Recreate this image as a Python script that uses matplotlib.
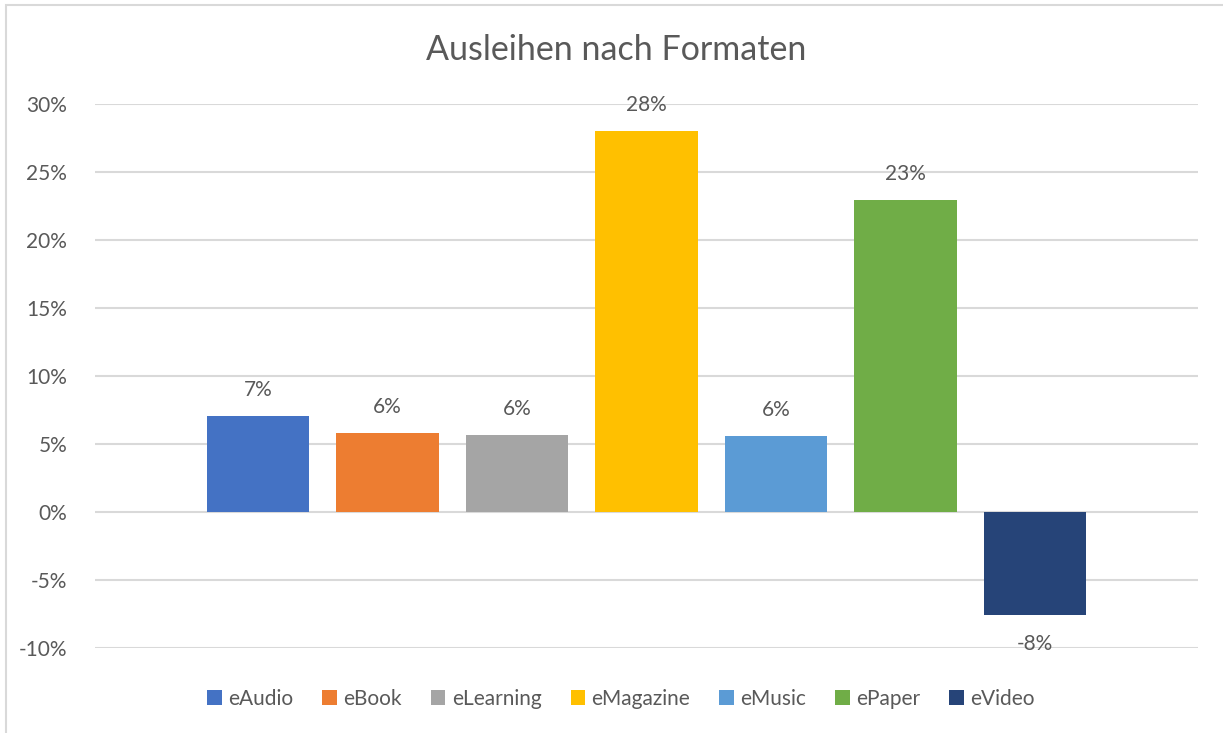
import matplotlib
matplotlib.use("Agg")
import matplotlib.pyplot as plt
from matplotlib.patches import Rectangle
from matplotlib.ticker import FuncFormatter, MultipleLocator

title = "Ausleihen nach Formaten"
formats = ["eAudio", "eBook", "eLearning", "eMagazine", "eMusic", "ePaper", "eVideo"]
values = [7.06, 5.81, 5.66, 28.0, 5.59, 22.94, -7.57]
colors = ["#4472C4", "#ED7D31", "#A5A5A5", "#FFC000", "#5B9BD5", "#70AD47", "#264478"]

plt.rcParams['font.family'] = ['Lato', 'DejaVu Sans']
text_color = "#595959"

W, H = 1223, 733
fig = plt.figure(figsize=(W / 100, H / 100), dpi=100)
fig.patch.set_facecolor("white")

# chart border (left/top visible)
fig.patches.append(Rectangle((6 / W, -0.05), 1.2, 1 - 5 / H + 0.05, transform=fig.transFigure,
                             fill=False, edgecolor="#D9D9D9", linewidth=1.5, zorder=0))

left, right, top, bottom = 95, 1198, 104, 648
ax = fig.add_axes([left / W, 1 - bottom / H, (right - left) / W, (bottom - top) / H])

xs = list(range(len(formats)))
bars = []
for x, v, c, name in zip(xs, values, colors, formats):
    b = ax.bar(x, v, width=0.79, color=c, label=name, zorder=3)
    bars.append(b)
    if v >= 0:
        ax.annotate(f"{round(v):.0f}%", (x, v), xytext=(0, 19), textcoords="offset points",
                    ha="center", va="center", fontsize=15, color=text_color)
    else:
        ax.annotate(f"{round(v):.0f}%", (x, v), xytext=(0, -21), textcoords="offset points",
                    ha="center", va="center", fontsize=15, color=text_color)

ax.set_xlim(-1.259, 7.259)
ax.set_ylim(-10, 30)
ax.yaxis.set_major_locator(MultipleLocator(5))
ax.yaxis.set_major_formatter(FuncFormatter(lambda v, p: f"{v:.0f}%"))
ax.grid(axis="y", color="#D9D9D9", linewidth=1.5, zorder=0)
ax.set_xticks([])
for s in ax.spines.values():
    s.set_visible(False)
ax.tick_params(axis="y", length=0, pad=20, labelsize=15, labelcolor=text_color)

fig.text(616 / W, 1 - 50 / H, title, ha="center", va="center", fontsize=24.5, color=text_color)

leg = fig.legend(handles=[b[0] for b in bars], labels=formats, loc="center", ncol=7,
                 bbox_to_anchor=(621 / W, 1 - 699 / H), frameon=False,
                 handlelength=0.7, handleheight=0.7, handletextpad=0.3,
                 columnspacing=1.4, fontsize=15)
for t in leg.get_texts():
    t.set_color(text_color)

fig.savefig("out.png", dpi=100, facecolor="white")
